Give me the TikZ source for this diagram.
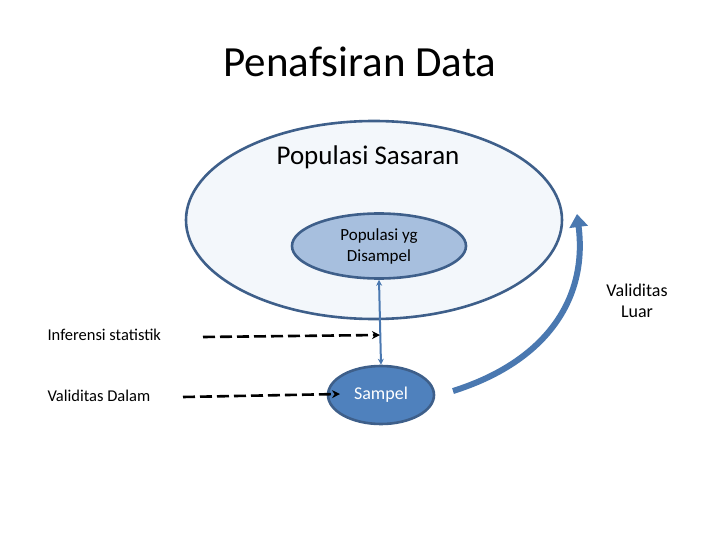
\documentclass[tikz,border=0pt]{standalone}
\usepackage{fontspec}
\setmainfont{Carlito}
\usetikzlibrary{shapes.geometric,arrows.meta}
\definecolor{edgeblue}{HTML}{3E5F8A}
\definecolor{paleblue}{HTML}{F3F7FB}
\definecolor{midblue}{HTML}{A7BFDE}
\definecolor{darkblue}{HTML}{4F81BD}
\definecolor{arrowblue}{HTML}{4A78B0}
\tikzset{
  ell/.style={ellipse, draw=edgeblue, line width=2.6pt, inner sep=0pt},
  lbl/.style={font=\fontsize{16.5}{21}\selectfont, align=center},
  dasharrow/.style={draw=black, line width=2.6pt, dash pattern=on 12pt off 5pt, -{Stealth[length=8pt,width=8pt]}}
}
\begin{document}
\begin{tikzpicture}[x=1pt,y=-1pt]
\useasboundingbox (0,0) rectangle (720,540);
\node (title) at (360,62) {\fontsize{43}{48}\selectfont Penafsiran Data};
\node[ell, fill=paleblue, minimum width=376pt, minimum height=198pt] (pop) at (374,220) {};
\node (popl) at (368,157) {\fontsize{27}{30}\selectfont Populasi Sasaran};
\node[ell, fill=midblue, minimum width=174pt, minimum height=65pt, align=center, font=\fontsize{17}{21}\selectfont] (dis) at (379,246) {Populasi yg\\Disampel};
\node[ell, fill=darkblue, minimum width=106pt, minimum height=58pt, text=white, font=\fontsize{18}{21}\selectfont] (samp) at (381,395) {Sampel};
\draw[arrowblue, line width=2pt, {Stealth[length=6pt,width=6pt]}-{Stealth[length=6pt,width=6pt]}] (dis.south) -- (samp.north);
\node[lbl, anchor=west] (inf) at (44,335) {Inferensi statistik};
\node[lbl, anchor=west] (vd) at (44,396) {Validitas Dalam};
\coordinate (infs) at (203,337);
\coordinate (infe) at (380,335);
\coordinate (vds) at (183,397);
\coordinate (vde) at (340,394);
\draw[dasharrow] (infs) -- (infe);
\draw[dasharrow] (vds) -- (vde);
\node[lbl, font=\fontsize{18}{21}\selectfont] (vl) at (637,301) {Validitas\\Luar};
\coordinate (cs) at (453,391);
\coordinate (ce) at (577,214);
\draw[arrowblue, line width=6pt, -{Triangle[length=13pt,width=18pt]}] (cs) .. controls (545,362) and (588,300) .. (ce);
\end{tikzpicture}
\end{document}
